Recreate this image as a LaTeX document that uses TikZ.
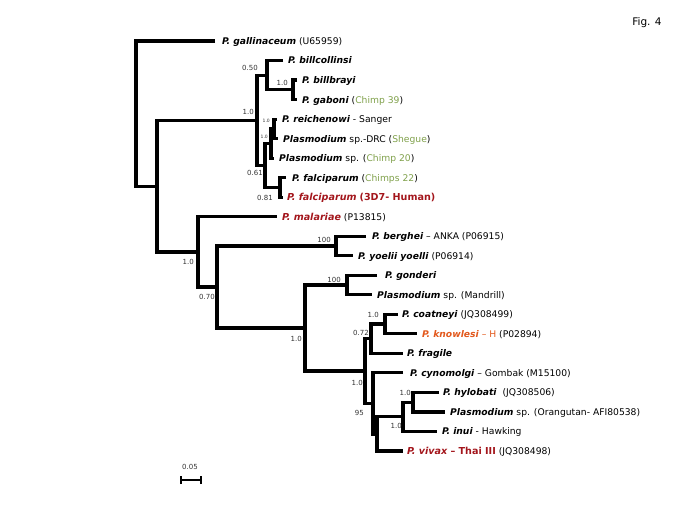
\documentclass[tikz,border=0pt]{standalone}
\usepackage{fontspec}
\setmainfont{DejaVu Sans}[ItalicFont={DejaVu Sans Oblique},BoldFont={DejaVu Sans Bold},BoldItalicFont={DejaVu Sans Bold Oblique}]
\definecolor{chimp}{HTML}{7FA04A}
\definecolor{hred}{HTML}{A3161C}
\definecolor{korange}{HTML}{E2581C}
\definecolor{supc}{HTML}{333333}
\newcommand{\spn}[1]{\textbf{\textit{#1}}}
\newcommand{\bigtxt}{\fontsize{9.6}{10.5}\selectfont}
\begin{document}
\begin{tikzpicture}[x=1pt,y=-1pt,
  br/.style={line width=3.2pt, line join=miter, line cap=butt},
  tip/.style={anchor=base west, inner sep=0pt, font=\fontsize{9.2}{10}\selectfont},
  big/.style={anchor=base west, inner sep=0pt, font=\bigtxt},
  sv/.style={anchor=east, inner sep=0pt, font=\fontsize{7}{8}\selectfont, text=supc},
  tiny/.style={anchor=east, inner sep=0pt, font=\fontsize{4.5}{5}\selectfont, text=supc}]
\useasboundingbox (0,0) rectangle (685,512);
% tip branch ends
\coordinate (e-gal) at (215,41);
\coordinate (e-bcol) at (283,60.5);
\coordinate (e-bbray) at (297,80);
\coordinate (e-gab) at (297,99.6);
\coordinate (e-reich) at (277,119.1);
\coordinate (e-drc) at (278,138.6);
\coordinate (e-ch20) at (274,158.1);
\coordinate (e-ch22) at (286,177.6);
\coordinate (e-f3d7) at (283,197.2);
\coordinate (e-mal) at (277,216.7);
\coordinate (e-berg) at (366,236.2);
\coordinate (e-yoel) at (353,255.7);
\coordinate (e-gond) at (377,275.2);
\coordinate (e-mand) at (372,294.8);
\coordinate (e-coat) at (398,314.3);
\coordinate (e-know) at (417,333.8);
\coordinate (e-frag) at (403,353.3);
\coordinate (e-cyn) at (403,372.8);
\coordinate (e-hyl) at (439,392.4);
\coordinate (e-orang) at (445,411.9);
\coordinate (e-inui) at (437,431.4);
\coordinate (e-viv) at (403,451);
% internal nodes
\coordinate (nC) at (293,89.8);
\coordinate (nB) at (267,75.2);
\coordinate (nRD) at (274,128.9);
\coordinate (nE) at (271,143.5);
\coordinate (nF) at (280,187.4);
\coordinate (nD) at (265,165.4);
\coordinate (nL) at (257,120.3);
\coordinate (nI) at (336,246);
\coordinate (nK) at (347,285);
\coordinate (nO) at (385,324);
\coordinate (nN) at (371,338.7);
\coordinate (nS) at (413,402.1);
\coordinate (nR) at (403,416.8);
\coordinate (nQ) at (377,433.9);
\coordinate (nP) at (373,403.3);
\coordinate (nM) at (365,371);
\coordinate (nJ) at (305,328);
\coordinate (nH) at (217,287);
\coordinate (nG) at (198,251.9);
\coordinate (nA) at (157,186.1);
\coordinate (nRoot) at (136,113.6);
% branches
\draw[br] (e-bbray) -| (nC) |- (e-gab);
\draw[br] (e-bcol) -| (nB) |- (nC);
\draw[br] (e-reich) -| (nRD) |- (e-drc);
\draw[br] (nRD) -| (nE) |- (e-ch20);
\draw[br] (e-ch22) -| (nF) |- (e-f3d7);
\draw[br] (nE) -| (nD) |- (nF);
\draw[br] (nB) -| (nL) |- (nD);
\draw[br] (e-berg) -| (nI) |- (e-yoel);
\draw[br] (e-gond) -| (nK) |- (e-mand);
\draw[br] (e-coat) -| (nO) |- (e-know);
\draw[br] (nO) -| (nN) |- (e-frag);
\draw[br] (e-hyl) -| (nS) |- (e-orang);
\draw[br] (nS) -| (nR) |- (e-inui);
\draw[br] (nR) -| (nQ) |- (e-viv);
\draw[br] (e-cyn) -| (nP) |- (nQ);
\draw[br] (nN) -| (nM) |- (nP);
\draw[br] (nK) -| (nJ) |- (nM);
\draw[br] (nI) -| (nH) |- (nJ);
\draw[br] (e-mal) -| (nG) |- (nH);
\draw[br] (nL) -| (nA) |- (nG);
\draw[br] (e-gal) -| (nRoot) |- (nA);
% tip labels
\node[tip] (t-gal) at (222,44.4) {\spn{P. gallinaceum} (U65959)};
\node[tip] (t-bcol) at (288,63.9) {\spn{P. billcollinsi}};
\node[tip] (t-bbray) at (302,83.4) {\spn{P. billbrayi}};
\node[tip] (t-gab) at (302,103) {\spn{P. gaboni} (\textcolor{chimp}{Chimp 39})};
\node[tip] (t-reich) at (282,122.5) {\spn{P. reichenowi} - Sanger};
\node[tip] (t-drc) at (283,142) {\spn{Plasmodium} sp.-DRC (\textcolor{chimp}{Shegue})};
\node[tip] (t-ch20) at (279,161.5) {\spn{Plasmodium} sp. (\textcolor{chimp}{Chimp 20})};
\node[tip] (t-ch22) at (292,181) {\spn{P. falciparum} (\textcolor{chimp}{Chimps 22})};
\node[big,text=hred] (t-f3d7) at (287,200.8) {\spn{P. falciparum} \textbf{(3D7- Human)}};
\node[tip] (t-mal) at (282,220.2) {{\bigtxt\textcolor{hred}{\spn{P. malariae}}} (P13815)};
\node[tip] (t-berg) at (372,239.6) {\spn{P. berghei} – ANKA (P06915)};
\node[tip] (t-yoel) at (358,259.1) {\spn{P. yoelii yoelli} (P06914)};
\node[tip] (t-gond) at (385,278.6) {\spn{P. gonderi}};
\node[tip] (t-mand) at (377,298.2) {\spn{Plasmodium} sp. (Mandrill)};
\node[tip] (t-coat) at (402,317.7) {\spn{P. coatneyi} (JQ308499)};
\node[tip] (t-know) at (422,337.2) {\textcolor{korange}{\spn{P. knowlesi} – H} (P02894)};
\node[tip] (t-frag) at (407,356.7) {\spn{P. fragile}};
\node[tip] (t-cyn) at (410,376.2) {\spn{P. cynomolgi} – Gombak (M15100)};
\node[tip] (t-hyl) at (443,395.8) {\spn{P. hylobati}\ \ (JQ308506)};
\node[tip] (t-orang) at (450,415.3) {\spn{Plasmodium} sp. (Orangutan- AFI80538)};
\node[tip] (t-inui) at (442,434.8) {\spn{P. inui} - Hawking};
\node[tip] (t-viv) at (407,454.6) {{\bigtxt\textcolor{hred}{\spn{P. vivax} \textbf{– Thai III}}} (JQ308498)};
% support values
\node[sv] (s-B) at (258,68) {0.50};
\node[sv] (s-L) at (254,112) {1.0};
\node[sv] (s-C) at (288,83) {1.0};
\node[tiny] (s-RD) at (270,121) {1.0};
\node[tiny] (s-E) at (268,137) {1.0};
\node[sv] (s-D) at (263,173) {0.61};
\node[sv] (s-F) at (273,198) {0.81};
\node[sv] (s-G) at (194,262) {1.0};
\node[sv] (s-I) at (331,240) {100};
\node[sv] (s-H) at (215,297) {0.70};
\node[sv] (s-K) at (341,280) {100};
\node[sv] (s-J) at (302,339) {1.0};
\node[sv] (s-O) at (379,315) {1.0};
\node[sv] (s-N) at (369,333) {0.72};
\node[sv] (s-M) at (363,383) {1.0};
\node[sv] (s-P) at (364,413) {95};
\node[sv] (s-S) at (411,393) {1.0};
\node[sv] (s-R) at (402,426) {1.0};
% scale bar
\coordinate (sb1) at (181,480);
\coordinate (sb2) at (201,480);
\draw[line width=2pt] (sb1) -- (sb2);
\draw[line width=1.6pt] ([yshift=-4pt]sb1) -- ([yshift=4pt]sb1);
\draw[line width=1.6pt] ([yshift=-4pt]sb2) -- ([yshift=4pt]sb2);
\node[sv,anchor=center] (sbl) at (190,467) {0.05};
% figure label
\node[inner sep=0pt, font=\fontsize{10.5}{12}\selectfont] (fig) at (647,23) {Fig. 4};
\end{tikzpicture}
\end{document}
